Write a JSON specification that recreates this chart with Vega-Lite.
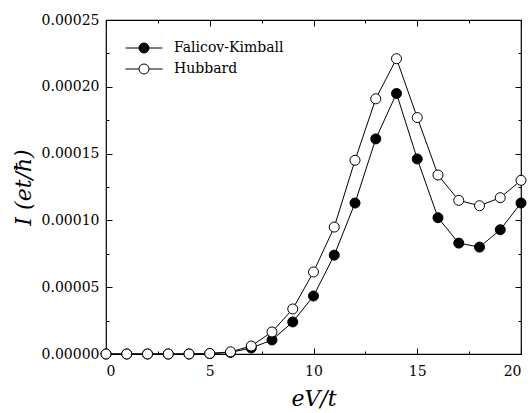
{
  "$schema": "https://vega.github.io/schema/vega-lite/v6.json",
  "width": 415,
  "height": 334,
  "autosize": {"type": "none"},
  "padding": {"left": 106, "top": 20, "right": 9, "bottom": 59},
  "config": {
    "font": "DejaVu Serif",
    "view": {"stroke": "black", "strokeWidth": 1.2},
    "axis": {
      "labelFont": "DejaVu Serif",
      "labelFontSize": 14,
      "labelColor": "black",
      "titleFont": "DejaVu Serif",
      "titleColor": "black",
      "titleFontWeight": "normal",
      "titleFontStyle": "italic",
      "titleFontSize": 22,
      "tickColor": "black",
      "tickWidth": 1,
      "domain": false,
      "grid": false
    },
    "legend": {
      "labelFont": "DejaVu Serif",
      "labelFontSize": 14,
      "labelColor": "black"
    }
  },
  "data": {
    "values": [
      {"x": 0, "I": 0.0, "s": "Falicov-Kimball"},
      {"x": 1, "I": 0.0, "s": "Falicov-Kimball"},
      {"x": 2, "I": 0.0, "s": "Falicov-Kimball"},
      {"x": 3, "I": 0.0, "s": "Falicov-Kimball"},
      {"x": 4, "I": 0.0, "s": "Falicov-Kimball"},
      {"x": 5, "I": 0.0000003, "s": "Falicov-Kimball"},
      {"x": 6, "I": 0.0000012, "s": "Falicov-Kimball"},
      {"x": 7, "I": 0.0000045, "s": "Falicov-Kimball"},
      {"x": 8, "I": 0.0000105, "s": "Falicov-Kimball"},
      {"x": 9, "I": 0.000024, "s": "Falicov-Kimball"},
      {"x": 10, "I": 0.0000434, "s": "Falicov-Kimball"},
      {"x": 11, "I": 0.000074, "s": "Falicov-Kimball"},
      {"x": 12, "I": 0.000113, "s": "Falicov-Kimball"},
      {"x": 13, "I": 0.000161, "s": "Falicov-Kimball"},
      {"x": 14, "I": 0.000195, "s": "Falicov-Kimball"},
      {"x": 15, "I": 0.000146, "s": "Falicov-Kimball"},
      {"x": 16, "I": 0.000102, "s": "Falicov-Kimball"},
      {"x": 17, "I": 0.000083, "s": "Falicov-Kimball"},
      {"x": 18, "I": 0.00008, "s": "Falicov-Kimball"},
      {"x": 19, "I": 0.000093, "s": "Falicov-Kimball"},
      {"x": 20, "I": 0.000113, "s": "Falicov-Kimball"},
      {"x": 0, "I": 0.0, "s": "Hubbard"},
      {"x": 1, "I": 0.0, "s": "Hubbard"},
      {"x": 2, "I": 0.0, "s": "Hubbard"},
      {"x": 3, "I": 0.0, "s": "Hubbard"},
      {"x": 4, "I": 0.0, "s": "Hubbard"},
      {"x": 5, "I": 0.0000004, "s": "Hubbard"},
      {"x": 6, "I": 0.0000016, "s": "Hubbard"},
      {"x": 7, "I": 0.000006, "s": "Hubbard"},
      {"x": 8, "I": 0.0000165, "s": "Hubbard"},
      {"x": 9, "I": 0.0000337, "s": "Hubbard"},
      {"x": 10, "I": 0.0000614, "s": "Hubbard"},
      {"x": 11, "I": 0.000095, "s": "Hubbard"},
      {"x": 12, "I": 0.000145, "s": "Hubbard"},
      {"x": 13, "I": 0.000191, "s": "Hubbard"},
      {"x": 14, "I": 0.000221, "s": "Hubbard"},
      {"x": 15, "I": 0.000177, "s": "Hubbard"},
      {"x": 16, "I": 0.000134, "s": "Hubbard"},
      {"x": 17, "I": 0.000115, "s": "Hubbard"},
      {"x": 18, "I": 0.000111, "s": "Hubbard"},
      {"x": 19, "I": 0.000117, "s": "Hubbard"},
      {"x": 20, "I": 0.00013, "s": "Hubbard"}
    ]
  },
  "layer": [
    {
      "mark": {"type": "line", "stroke": "black", "strokeWidth": 1},
      "encoding": {
        "x": {"field": "x", "type": "quantitative", "scale": {"domain": [0, 20], "nice": false, "zero": false},
              "axis": {"orient": "bottom", "values": [0, 5, 10, 15, 20], "tickSize": -6, "labelPadding": 16, "title": "eV/t", "titlePadding": 10}},
        "y": {"field": "I", "type": "quantitative", "scale": {"domain": [0, 0.00025], "nice": false},
              "axis": {"orient": "left", "values": [0, 0.00005, 0.0001, 0.00015, 0.0002, 0.00025], "format": ".5f", "tickSize": -6, "labelPadding": 13, "title": "I (et/ħ)", "titlePadding": 6}},
        "detail": {"field": "s"}
      }
    },
    {
      "mark": {"type": "point", "shape": "circle", "size": 100, "stroke": "black", "strokeWidth": 1, "opacity": 1},
      "encoding": {
        "x": {"field": "x", "type": "quantitative",
              "axis": {"orient": "top", "values": [0, 5, 10, 15, 20], "tickSize": -6, "labels": false, "title": null}},
        "y": {"field": "I", "type": "quantitative",
              "axis": {"orient": "right", "values": [0, 0.00005, 0.0001, 0.00015, 0.0002, 0.00025], "tickSize": -6, "labels": false, "title": null}},
        "fill": {"field": "s", "type": "nominal",
                 "scale": {"domain": ["Falicov-Kimball", "Hubbard"], "range": ["black", "white"]},
                 "legend": {"title": null, "orient": "none", "legendX": 31, "legendY": 21, "padding": 0,
                            "symbolType": "M-3.7,0H-1M1,0H3.7M-1,0A1,1,0,1,1,1,0A1,1,0,1,1,-1,0Z",
                            "symbolSize": 100, "symbolStrokeColor": "black", "symbolStrokeWidth": 1,
                            "labelOffset": 23, "rowPadding": 7}}
      }
    },
    {
      "mark": {"type": "point", "opacity": 0},
      "encoding": {
        "x": {"field": "x", "type": "quantitative",
              "axis": {"orient": "bottom", "values": [2.5, 7.5, 12.5, 17.5], "tickSize": -3, "labels": false, "title": null}},
        "y": {"field": "I", "type": "quantitative",
              "axis": {"orient": "left", "values": [0.000025, 0.000075, 0.000125, 0.000175, 0.000225], "tickSize": -3, "labels": false, "title": null}}
      }
    },
    {
      "mark": {"type": "point", "opacity": 0},
      "encoding": {
        "x": {"field": "x", "type": "quantitative",
              "axis": {"orient": "top", "values": [2.5, 7.5, 12.5, 17.5], "tickSize": -3, "labels": false, "title": null}},
        "y": {"field": "I", "type": "quantitative",
              "axis": {"orient": "right", "values": [0.000025, 0.000075, 0.000125, 0.000175, 0.000225], "tickSize": -3, "labels": false, "title": null}}
      }
    }
  ],
  "resolve": {"axis": {"x": "independent", "y": "independent"}}
}
